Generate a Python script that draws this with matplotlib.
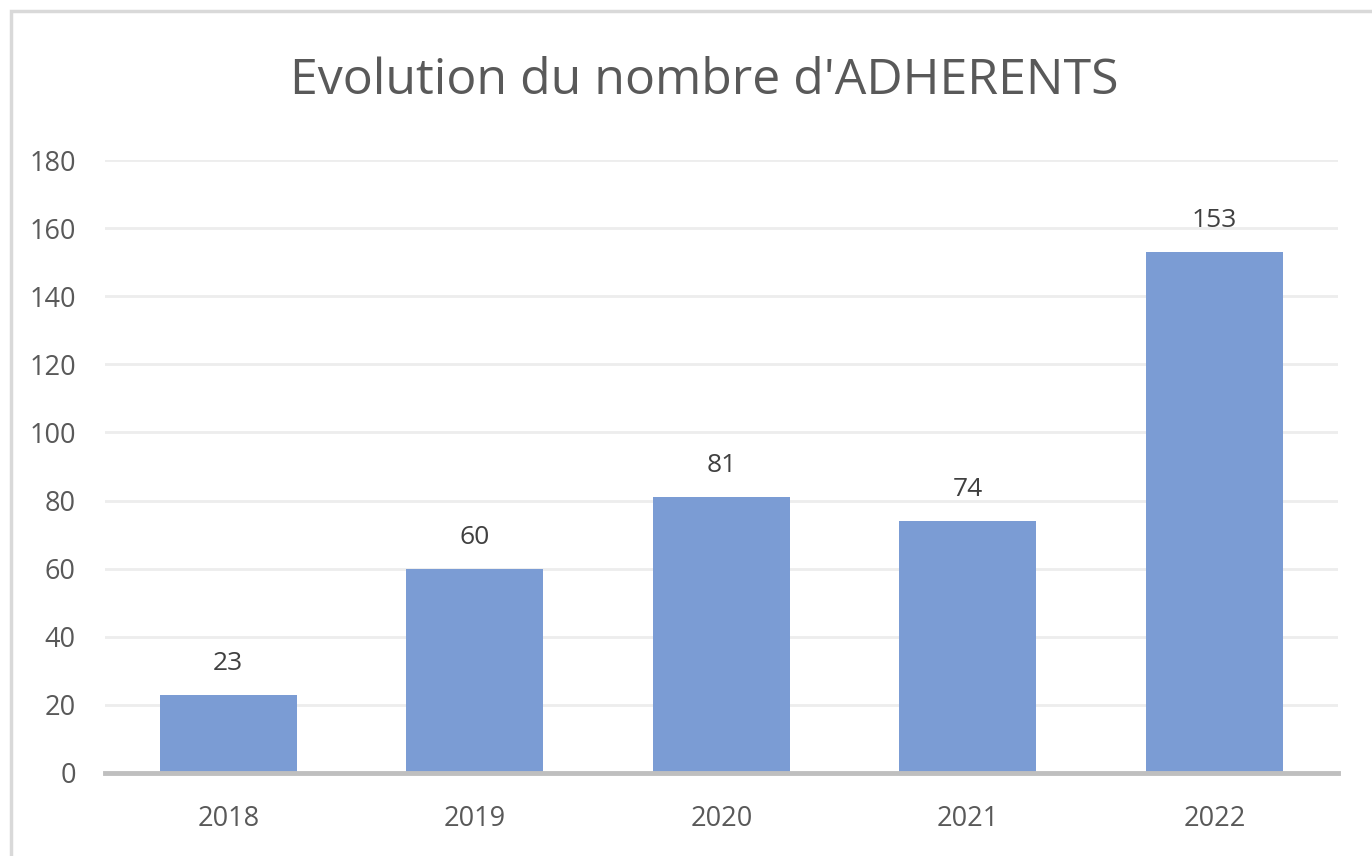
import matplotlib.pyplot as plt
from matplotlib.patches import Rectangle

annees = ['2018', '2019', '2020', '2021', '2022']
adherents = [23, 60, 81, 74, 153]
yticks = [0, 20, 40, 60, 80, 100, 120, 140, 160, 180]

plt.rcParams['font.family'] = ['Open Sans', 'DejaVu Sans']
gris = '#595959'

fig = plt.figure(figsize=(13.72, 8.56), dpi=100)
ax = fig.add_axes([0.0765, 0.097, 0.8985, 0.716])

# cadre du graphique (bords gauche et haut visibles)
fig.patches.append(Rectangle((11 / 1372, -0.01), 1.1, 1 - 11 / 856 + 0.01,
                             transform=fig.transFigure, fill=False,
                             edgecolor='#D9D9D9', linewidth=2.5))

x = range(len(annees))
bars = ax.bar(x, adherents, width=0.555, color='#7B9CD4', zorder=3)

for b, v in zip(bars, adherents):
    ax.text(b.get_x() + b.get_width() / 2, v + 5.5, str(v), ha='center', va='bottom',
            fontsize=19, color='#404040')

ax.set_xlim(-0.5, 4.5)
ax.set_ylim(0, 180)
ax.set_yticks(yticks)
ax.set_xticks(list(x))
ax.set_xticklabels(annees)
ax.tick_params(axis='both', length=0, labelsize=19.5, labelcolor=gris)
ax.tick_params(axis='y', pad=21)
ax.tick_params(axis='x', pad=23)

ax.yaxis.grid(True, color='#EDEDED', linewidth=2, zorder=0)
for s in ['left', 'right', 'top']:
    ax.spines[s].set_visible(False)
ax.spines['bottom'].set_color('#BFBFBF')
ax.spines['bottom'].set_linewidth(3.5)
ax.spines['bottom'].set_zorder(4)

fig.text(0.513, 0.905, "Evolution du nombre d'ADHERENTS", ha='center', va='center',
         fontsize=36, color=gris)

fig.savefig('out.png', dpi=100)
